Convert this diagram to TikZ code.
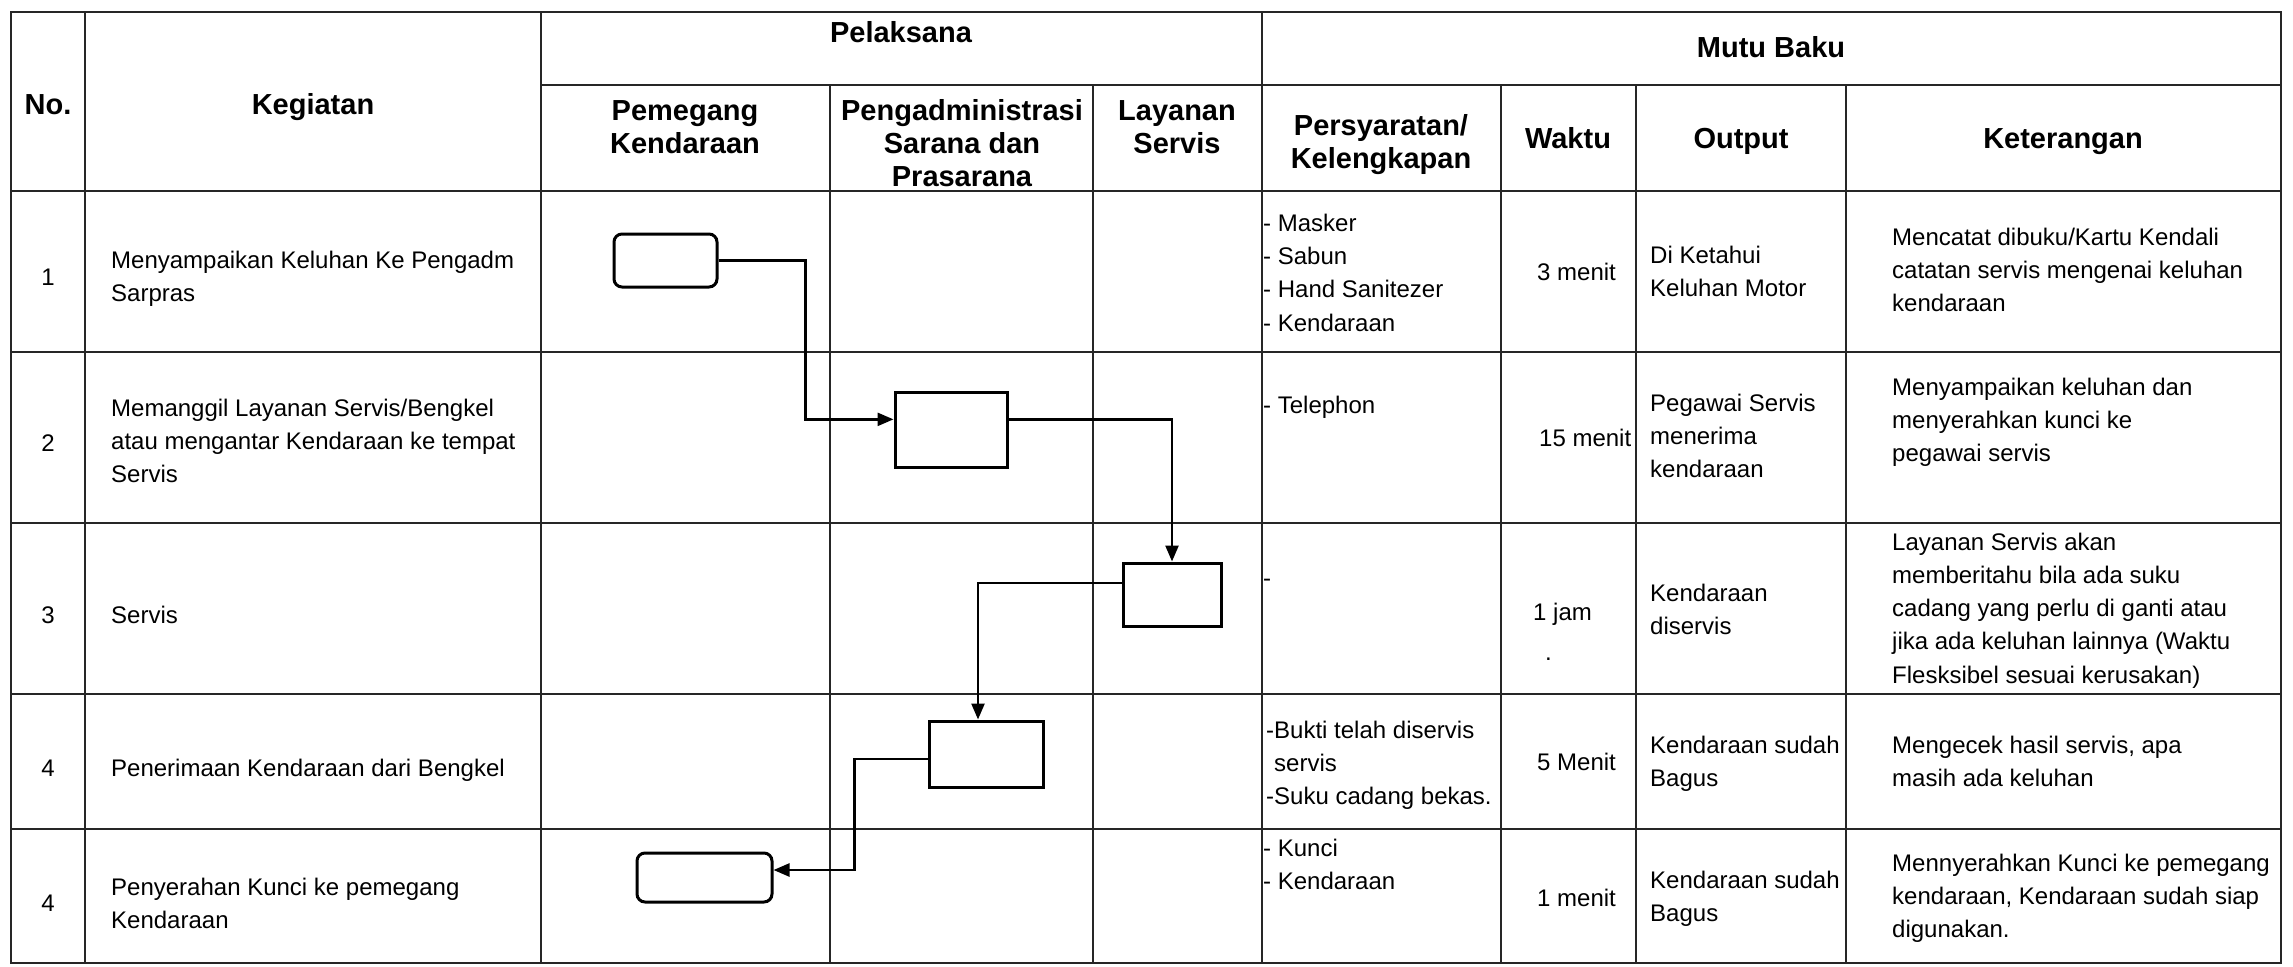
\documentclass[tikz,border=0pt]{standalone}
\usepackage{fontspec}
\setmainfont{Liberation Sans}
\usetikzlibrary{arrows.meta}
\tikzset{
  tline/.style={line width=2pt, draw=black!85},
  hdr/.style={font=\fontsize{29}{33.3}\selectfont\bfseries, inner sep=0pt, align=center, anchor=base},
  txt/.style={font=\fontsize{24}{33.3}\selectfont, inner sep=0pt, align=left, anchor=base west},
  num/.style={font=\fontsize{24}{33.3}\selectfont, inner sep=0pt, anchor=base},
  proc/.style={draw, line width=3pt, inner sep=0pt},
  term/.style={proc, rounded corners=8pt},
  flow/.style={line width=2.5pt, -{Triangle[length=16pt,width=13pt]}},
}
\begin{document}
\begin{tikzpicture}[x=1pt,y=-1pt]
\useasboundingbox (0,0) rectangle (2293,966);
\fill[white] (0,0) rectangle (2293,966);
% ---- table grid ----
\draw[tline] (11,12) rectangle (2281,963);
\draw[tline] (541,85) -- (2281,85);
\draw[tline] (11,191) -- (2281,191);
\draw[tline] (11,352) -- (2281,352);
\draw[tline] (11,523) -- (2281,523);
\draw[tline] (11,694) -- (2281,694);
\draw[tline] (11,829) -- (2281,829);
\draw[tline] (85,12) -- (85,963);
\draw[tline] (541,12) -- (541,963);
\draw[tline] (830,85) -- (830,963);
\draw[tline] (1093,85) -- (1093,963);
\draw[tline] (1262,12) -- (1262,963);
\draw[tline] (1501,85) -- (1501,963);
\draw[tline] (1636,85) -- (1636,963);
\draw[tline] (1846,85) -- (1846,963);
% ---- headers (base anchor = last line baseline) ----
\node[hdr] (hNo) at (48,114) {No.};
\node[hdr] (hKeg) at (313,114) {Kegiatan};
\node[hdr] (hPel) at (901,43) {Pelaksana};
\node[hdr] (hMutu) at (1771,57) {Mutu Baku};
\node[hdr] (hPem) at (685,153.3) {Pemegang\\Kendaraan};
\node[hdr] (hPeng) at (962,186.6) {Pengadministrasi\\Sarana dan\\Prasarana};
\node[hdr] (hLay) at (1177,153.3) {Layanan\\Servis};
\node[hdr] (hPers) at (1381,168.3) {Persyaratan/\\Kelengkapan};
\node[hdr] (hWak) at (1568,148) {Waktu};
\node[hdr] (hOut) at (1741,148) {Output};
\node[hdr] (hKet) at (2063,148) {Keterangan};
% ---- row 1 ----
\node[num] (n1) at (48,285) {1};
\node[txt] (k1) at (111,301.3) {Menyampaikan Keluhan Ke Pengadm\\Sarpras};
\node[txt] (p1) at (1263,331) {- Masker\\- Sabun\\- Hand Sanitezer\\- Kendaraan};
\node[txt] (w1) at (1537,280) {3 menit};
\node[txt] (o1) at (1650,296.3) {Di Ketahui\\Keluhan Motor};
\node[txt] (e1) at (1892,311.6) {Mencatat dibuku/Kartu Kendali\\catatan servis mengenai keluhan\\kendaraan};
% ---- row 2 ----
\node[num] (n2) at (48,451) {2};
\node[txt] (k2) at (111,482.6) {Memanggil Layanan Servis/Bengkel\\atau mengantar Kendaraan ke tempat\\Servis};
\node[txt] (p2) at (1263,413) {- Telephon};
\node[txt] (w2) at (1539,446) {15 menit};
\node[txt] (o2) at (1650,477.6) {Pegawai Servis\\menerima\\kendaraan};
\node[txt] (e2) at (1892,461.6) {Menyampaikan keluhan dan\\menyerahkan kunci ke\\pegawai servis};
% ---- row 3 ----
\node[num] (n3) at (48,623) {3};
\node[txt] (k3) at (111,623) {Servis};
\node[txt] (p3) at (1263,586) {-};
\node[txt] (w3) at (1533,620) {1 jam};
\node[txt] (w3b) at (1545,660) {.};
\node[txt] (o3) at (1650,634.3) {Kendaraan\\diservis};
\node[txt] (e3) at (1892,683.2) {Layanan Servis akan\\memberitahu bila ada suku\\cadang yang perlu di ganti atau\\jika ada keluhan lainnya (Waktu\\Flesksibel sesuai kerusakan)};
% ---- row 4 ----
\node[num] (n4) at (48,776) {4};
\node[txt] (k4) at (111,776) {Penerimaan Kendaraan dari Bengkel};
\node[txt] (p4) at (1266,804.6) {-Bukti telah diservis\\\phantom{-}servis\\-Suku cadang bekas.};
\node[txt] (w4) at (1537,770) {5 Menit};
\node[txt] (o4) at (1650,786.3) {Kendaraan sudah\\Bagus};
\node[txt] (e4) at (1892,786.3) {Mengecek hasil servis, apa\\masih ada keluhan};
% ---- row 5 ----
\node[num] (n5) at (48,911) {4};
\node[txt] (k5) at (111,928.3) {Penyerahan Kunci ke pemegang\\Kendaraan};
\node[txt] (p5) at (1263,889.3) {- Kunci\\- Kendaraan};
\node[txt] (w5) at (1537,906) {1 menit};
\node[txt] (o5) at (1650,921.3) {Kendaraan sudah\\Bagus};
\node[txt] (e5) at (1892,937.6) {Mennyerahkan Kunci ke pemegang\\kendaraan, Kendaraan sudah siap\\digunakan.};
% ---- flow shapes ----
\node[term, minimum width=103pt, minimum height=53pt] (b1) at (665.5,260.5) {};
\node[proc, minimum width=112pt, minimum height=75pt] (b2) at (951,429.5) {};
\node[proc, minimum width=98pt, minimum height=63pt] (b3) at (1172,594.5) {};
\node[proc, minimum width=114pt, minimum height=66pt] (b4) at (986,754) {};
\node[term, minimum width=135pt, minimum height=49pt] (b5) at (704.5,877.5) {};
% ---- connectors ----
\draw[flow] (b1.east) -- ++(87,0) |- (b2.170);
\draw[flow] (b2.10) -| (b3.north);
\draw[flow] (b3.167) -| ([xshift=-8pt]b4.north);
\draw[flow] ([yshift=-5pt]b4.west) -- ++(-73,0) |- ([yshift=7.5pt]b5.east);
\end{tikzpicture}
\end{document}
